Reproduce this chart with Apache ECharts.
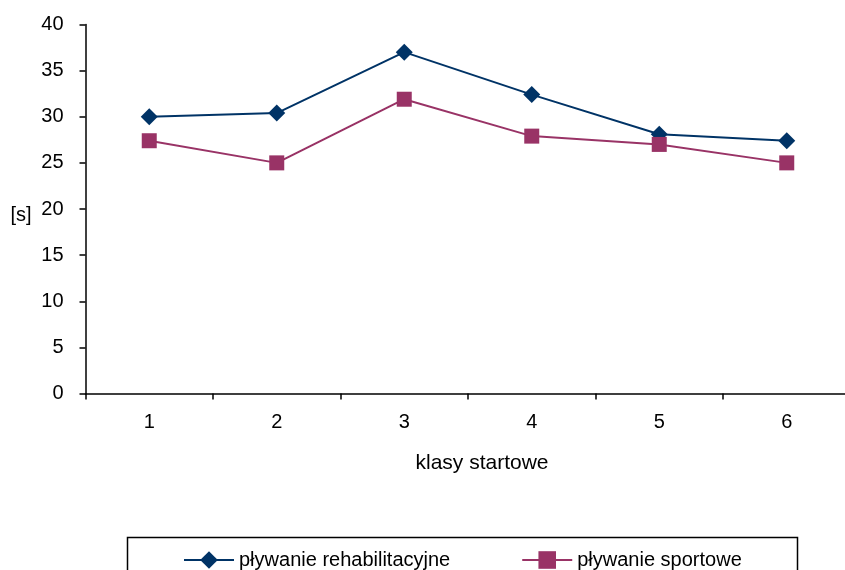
<!DOCTYPE html>
<html><head><meta charset="utf-8">
<script src="https://cdn.jsdelivr.net/npm/echarts@6/dist/echarts.min.js"></script>
<style>html,body{margin:0;padding:0;background:#fff;overflow:hidden;width:845px;height:570px}#c{width:860px;height:570px}</style>
</head><body><div id="c"></div>
<script>
const categories = ['1','2','3','4','5','6'];
const rehab = [30.0, 30.4, 37.0, 32.4, 28.1, 27.4];
const sport = [27.4, 25.0, 31.9, 27.9, 27.0, 25.0];
const seriesNames = ['pływanie rehabilitacyjne', 'pływanie sportowe'];
const yTitle = '[s]';
const xTitle = 'klasy startowe';

const font = 'Liberation Sans, Arial, sans-serif';
const chart = echarts.init(document.getElementById('c'), null, {renderer: 'canvas'});
chart.setOption({
  animation: false,
  backgroundColor: '#fff',
  grid: {left: 85.5, top: 24.5, width: 765, height: 369},
  xAxis: {
    type: 'category', data: categories, boundaryGap: true,
    axisLine: {lineStyle: {color: '#000', width: 1.5}},
    axisTick: {show: true, length: 6, lineStyle: {color: '#000', width: 1.5}},
    axisLabel: {color: '#000', fontSize: 20, fontFamily: font, margin: 19}
  },
  yAxis: {
    type: 'value', min: 0, max: 40, interval: 5,
    axisLine: {show: true, lineStyle: {color: '#000', width: 1.5}},
    axisTick: {show: true, length: 6, lineStyle: {color: '#000', width: 1.5}},
    axisLabel: {color: '#000', fontSize: 20, fontFamily: font, margin: 22},
    splitLine: {show: false}
  },
  legend: {
    left: 178, top: 545, itemWidth: 50, itemHeight: 22, itemGap: 71,
    textStyle: {color: '#000', fontSize: 20, fontFamily: font},
    data: seriesNames
  },
  graphic: [
    {type: 'rect', shape: {x: 127.5, y: 537.5, width: 670, height: 40}, style: {fill: 'none', stroke: '#000', lineWidth: 1.5}, z: -1},
    {type: 'text', x: 21, y: 215, style: {text: yTitle, fill: '#000', font: '20px ' + font, textAlign: 'center', textVerticalAlign: 'middle'}},
    {type: 'text', x: 482, y: 463, style: {text: xTitle, fill: '#000', font: '21px ' + font, textAlign: 'center', textVerticalAlign: 'middle'}}
  ],
  series: [
    {name: seriesNames[0], type: 'line', data: rehab, symbol: 'diamond', symbolSize: 17,
     lineStyle: {color: '#003366', width: 2}, itemStyle: {color: '#003366'}, color: '#003366'},
    {name: seriesNames[1], type: 'line', data: sport, symbol: 'rect', symbolSize: 15,
     lineStyle: {color: '#993366', width: 2}, itemStyle: {color: '#993366'}, color: '#993366'}
  ]
});
</script></body></html>
